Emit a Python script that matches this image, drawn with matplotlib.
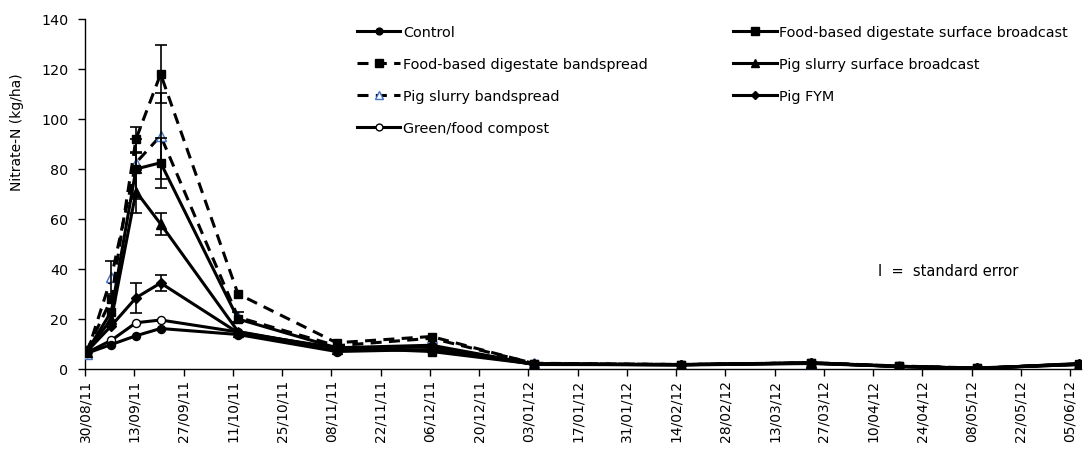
import numpy as np
import pandas as pd
import matplotlib
matplotlib.use("Agg")
import matplotlib.pyplot as plt

plt.rcParams['font.family'] = ['DejaVu Sans']

# Sampling dates (dd/mm/yy)
dates = ["30/08/11", "06/09/11", "13/09/11", "20/09/11", "12/10/11", "09/11/11",
         "06/12/11", "04/01/12", "15/02/12", "23/03/12", "17/04/12", "09/05/12",
         "07/06/12"]

# Soil nitrate-N (kg/ha) per treatment
control = [6.3, 9.8, 13.3, 16.2, 13.8, 7.0, 7.8, 2.0, 1.6, 2.2, 1.0, 0.2, 2.2]
food_sb = [7.0, 23.0, 80.0, 82.5, 20.0, 8.5, 7.0, 2.0, 1.8, 2.3, 1.1, 0.3, 1.8]
food_bs = [7.5, 28.0, 92.0, 118.0, 30.0, 10.5, 13.0, 2.2, 1.8, 2.5, 1.2, 0.4, 2.0]
pig_sb = [7.0, 20.0, 71.0, 58.0, 15.0, 8.0, 9.0, 1.8, 1.7, 2.4, 1.0, 0.3, 1.8]
pig_bs = [6.0, 36.7, 82.5, 93.3, 20.7, 9.3, 12.3, 2.3, 1.8, 2.5, 1.1, 0.3, 1.9]
pig_fym = [7.0, 17.3, 28.5, 34.4, 14.5, 8.5, 9.5, 2.0, 1.7, 2.5, 1.0, 0.3, 2.0]
compost = [6.5, 11.5, 18.5, 19.6, 14.8, 8.0, 9.0, 2.0, 1.7, 2.4, 1.0, 0.3, 2.0]

# Standard errors (0 = not shown)
food_sb_se = [0, 0, 12.0, 10.0, 0, 0, 0, 0, 0, 0, 0, 0, 0]
food_bs_se = [0, 0, 5.0, 11.5, 0, 0, 0, 0, 0, 0, 0, 0, 0]
pig_sb_se = [0, 0, 8.5, 4.3, 0, 0, 0, 0, 0, 0, 0, 0, 0]
pig_bs_se = [0, 6.6, 4.0, 17.3, 2.0, 0, 0, 0, 0, 0, 0, 0, 0]
pig_fym_se = [0, 0, 6.0, 3.3, 0, 0, 0, 0, 0, 0, 0, 0, 0]

series_labels = ["Control", "Food-based digestate surface broadcast",
                 "Food-based digestate bandspread", "Pig slurry surface broadcast",
                 "Pig slurry bandspread", "Pig FYM", "Green/food compost"]

tick_start = "30/08/11"
tick_end = "05/06/12"
axis_end = "08/06/12"

blue = "#4472C4"
lw = 2.2
dash = (3.6, 2.4)

x = pd.to_datetime(dates, format="%d/%m/%y") + pd.Timedelta(hours=12)

W, H = 1084, 456
fig = plt.figure(figsize=(W / 100, H / 100), dpi=100)
ax = fig.add_axes([85 / W, 1 - 370 / H, (1080.6 - 85) / W, 350 / H])

# (values, standard error, style, drawing order)
styles = [
    (control, None, dict(ls="-", marker="o", ms=5.8, mfc="black", mec="black"), 3.6),
    (food_sb, food_sb_se, dict(ls="-", marker="s", ms=6.0, mfc="black", mec="black"), 3.2),
    (food_bs, food_bs_se, dict(ls=(0, dash), marker="s", ms=6.0, mfc="black", mec="black"), 3.3),
    (pig_sb, pig_sb_se, dict(ls="-", marker="^", ms=6.5, mfc="black", mec="black"), 3.1),
    (pig_bs, pig_bs_se, dict(ls=(0, dash), marker="^", ms=7.0, mfc="white", mec=blue, mew=1.0), 2.8),
    (pig_fym, pig_fym_se, dict(ls="-", marker="D", ms=4.8, mfc="black", mec="black"), 3.0),
    (compost, None, dict(ls="-", marker="o", ms=5.8, mfc="white", mec="black", mew=1.0), 2.6),
]

handles = []
for (vals, se, st, z), lab in zip(styles, series_labels):
    ln, = ax.plot(x, vals, color="black", lw=lw, label=lab, zorder=z, **st)
    handles.append(ln)
    if se is not None:
        se = np.asarray(se, dtype=float)
        v = np.asarray(vals, dtype=float)
        m = se > 0
        ax.errorbar(x[m], v[m], yerr=se[m], fmt="none", ecolor="black",
                    elinewidth=1.2, capsize=4, capthick=1.2, zorder=4)

ax.set_ylim(0, 140)
ax.set_yticks(np.arange(0, 141, 20))
ticks = pd.date_range(pd.to_datetime(tick_start, format="%d/%m/%y"),
                      pd.to_datetime(tick_end, format="%d/%m/%y"), freq="14D")
ax.set_xticks(ticks)
ax.set_xticklabels([t.strftime("%d/%m/%y") for t in ticks], rotation=90)
ax.set_xlim(pd.to_datetime(tick_start, format="%d/%m/%y"),
            pd.to_datetime(axis_end, format="%d/%m/%y"))

for s in ["top", "right"]:
    ax.spines[s].set_visible(False)
for s in ["left", "bottom"]:
    ax.spines[s].set_linewidth(1.0)
ax.tick_params(axis="y", direction="out", length=5, width=1, pad=7, labelsize=10.3)
ax.tick_params(axis="x", direction="out", length=5, width=1, pad=2, labelsize=10)

fig.text(17 / W, 1 - 132 / H, "Nitrate-N (kg/ha)", rotation=90, ha="center",
         va="center", fontsize=10)

order = [0, 2, 4, 6, 1, 3, 5]
leg = fig.legend([handles[i] for i in order], [series_labels[i] for i in order],
                 loc="upper left", bbox_to_anchor=(357 / W, 1 - 26 / H),
                 ncol=2, frameon=False, fontsize=10.4, handlelength=3.0,
                 handletextpad=0.2, columnspacing=5.9, labelspacing=1.25,
                 borderaxespad=0, borderpad=0, markerscale=0.85)

fig.text(878 / W, 1 - 271 / H, "I  =  standard error", ha="left", va="center",
         fontsize=10.5)

fig.savefig("out.png", dpi=100)
